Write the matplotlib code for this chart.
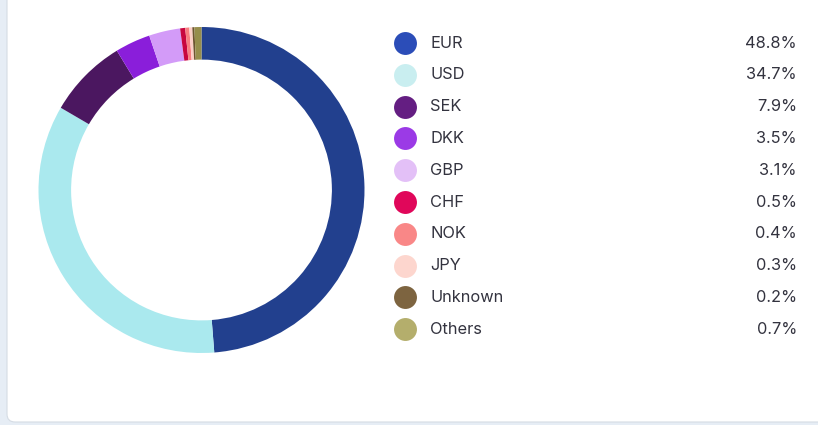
import matplotlib
matplotlib.use("Agg")
import matplotlib.pyplot as plt
from matplotlib.patches import FancyBboxPatch

categories = ["EUR", "USD", "SEK", "DKK", "GBP", "CHF", "NOK", "JPY", "Unknown", "Others"]
values = [48.8, 34.7, 7.9, 3.5, 3.1, 0.5, 0.4, 0.3, 0.2, 0.7]
pct_labels = ["48.8%", "34.7%", "7.9%", "3.5%", "3.1%", "0.5%", "0.4%", "0.3%", "0.2%", "0.7%"]
ring_colors = ["#22408E", "#AAE9EE", "#4B1760", "#8A1EDA", "#D39BF8", "#C8063F",
               "#F77E80", "#FCCFC6", "#6E5530", "#968E4C"]
legend_colors = ["#2B4DB8", "#C9EEF0", "#641E82", "#9B3AE6", "#E3C0F7", "#E0075A",
                 "#F98787", "#FDD6CE", "#7D6440", "#B4AE6C"]

W, H = 818, 425
fig = plt.figure(figsize=(W / 100, H / 100), dpi=100)
fig.patch.set_facecolor("#E6EDF5")

# card background
bg = fig.add_axes([0, 0, 1, 1])
bg.set_xlim(0, W)
bg.set_ylim(H, 0)
bg.axis("off")
card = FancyBboxPatch((7, -20), W + 20, H + 20 - 3, boxstyle="round,pad=0,rounding_size=8",
                      facecolor="white", edgecolor="#D5DCE4", linewidth=0.8)
bg.add_patch(card)

# donut
cx, cy, r = 201.5, 190, 163
ax = fig.add_axes([(cx - r) / W, (H - cy - r) / H, 2 * r / W, 2 * r / H])
ax.pie(values, colors=ring_colors, startangle=90, counterclock=False,
       wedgeprops=dict(width=0.2, linewidth=0), radius=1.0)
ax.set_xlim(-1, 1)
ax.set_ylim(-1, 1)
ax.set_aspect("equal")
ax.axis("off")

# legend
y0, step = 43, 31.8
text_color = "#33333F"
fam = ["Inter", "DejaVu Sans"]
for i, (cat, pct, col) in enumerate(zip(categories, pct_labels, legend_colors)):
    y = y0 + i * step
    bg.plot(405, y, "o", markersize=16.5, color=col, markeredgewidth=0)
    bg.text(430, y, cat, fontsize=11.8, color=text_color, va="center", ha="left", family=fam)
    bg.text(797, y, pct, fontsize=11.8, color=text_color, va="center", ha="right", family=fam)

fig.savefig("out.png", dpi=100, facecolor=fig.get_facecolor())
